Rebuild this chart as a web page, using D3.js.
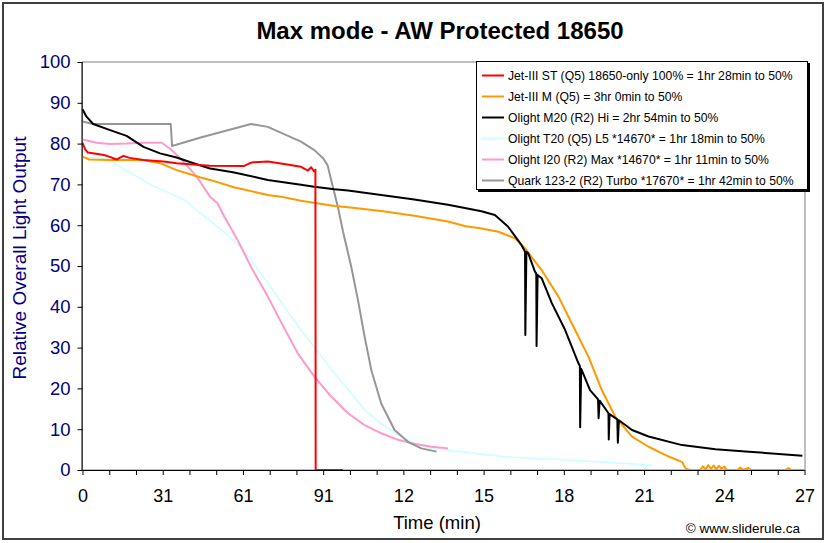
<!DOCTYPE html>
<html><head><meta charset="utf-8">
<script src="https://cdn.jsdelivr.net/npm/d3@7"></script>
<style>
html,body{margin:0;padding:0;background:#fff;}
svg{display:block;font-family:Arial,"Liberation Sans",sans-serif;}
</style></head>
<body>
<svg id="chart" width="829" height="543"></svg>
<script>
// ---------- data (x in axis units, y in % output) ----------
const chartTitle = "Max mode - AW Protected 18650";
const seriesNames = [
  "Jet-III ST (Q5) 18650-only 100% = 1hr 28min to 50%",
  "Jet-III M (Q5) = 3hr 0min to 50%",
  "Olight M20 (R2) Hi = 2hr 54min to 50%",
  "Olight T20 (Q5) L5 *14670* = 1hr 18min to 50%",
  "Olight I20 (R2) Max *14670* = 1hr 11min to 50%",
  "Quark 123-2 (R2) Turbo *17670* = 1hr 42min to 50%"
];
const seriesColors = ["#ff0000", "#ff9900", "#000000", "#ccffff", "#ff99cc", "#969696"];
const xTickValues = [0,3,6,9,12,15,18,21,24,27];
const xTickLabels = ["0","31","61","91","12","15","18","21","24","27"];
const yTickValues = [0,10,20,30,40,50,60,70,80,90,100];

const jetST = [[0,80.2],[0.1,78.6],[0.2,77.8],[0.5,77.5],[0.8,77.2],[1.0,76.8],[1.27,76.1],[1.53,77],[1.76,76.5],
  [2.28,76],[3.03,75.6],[3.52,75.2],[4.76,74.6],[6.03,74.5],[6.26,75.2],[6.36,75.4],[6.93,75.6],[7.54,75],
  [8.17,74.3],[8.43,73.4],[8.55,74.2],[8.66,73.2],[8.71,73.6],[8.72,0],[9.74,0]];
const jetM = [[0,76.8],[0.25,76.1],[1.0,76],[2.27,76],[2.9,75.2],[3.52,73.5],[4.42,71.7],[4.77,71.1],[5.66,69.3],
  [6.93,67.4],[7.42,67],[8.17,66],[8.66,65.5],[9.42,64.7],[9.93,64.4],[11.17,63.5],[12.41,62.3],[13.67,60.9],
  [14.29,59.8],[14.92,59.2],[15.55,58.4],[16.17,56.8],[16.55,54.3],[17.17,49],[17.8,42.5],[18.42,34.3],
  [18.92,27.8],[19.42,19.6],[19.92,13.1],[20.55,8.2],[21.17,5.7],[21.92,3.3],[22.42,2.0],[22.55,0.4],
  [22.7,0],[23.1,0],[23.2,0.9],[23.3,0.2],[23.4,1.2],[23.5,0.3],[23.6,1.1],[23.7,0.2],[23.8,1.0],[23.9,0.3],
  [24.0,0.8],[24.1,0],[24.5,0],[24.6,0.6],[24.7,0],[24.9,0.5],[25.0,0],[26.3,0],[26.4,0.5],[26.5,0],[27,0]];
const olightM20 = [[0,88.4],[0.15,86.6],[0.4,84.8],[1.03,83.3],[1.65,81.9],[2.28,79.2],[2.9,77.6],[3.52,76.6],
  [4.15,75.2],[4.77,73.9],[5.4,73.2],[5.67,72.9],[6.52,71.7],[6.93,71.1],[8.17,69.9],[8.66,69.4],[9.42,68.8],
  [9.93,68.5],[11.17,67.4],[12.41,66.3],[13.67,65],[14.92,63.4],[15.42,62.5],[15.92,59.6],[16.42,55.1],
  [16.55,53.5],[16.56,33.1],[16.6,53.5],[16.67,53.1],[16.92,48.6],[16.97,48.2],[16.98,30.4],[17.02,47.8],
  [17.17,47],[17.55,40.9],[18.05,34.3],[18.55,26.1],[18.6,25.5],[18.61,10.5],[18.65,24.8],[18.67,24.5],
  [18.98,19.6],[19.28,17.3],[19.3,12.7],[19.34,17.0],[19.67,13.9],[19.68,7.5],[19.71,13.7],[20.0,12.4],
  [20.02,6.7],[20.06,12.2],[20.55,9.8],[21.17,8.2],[22.42,6.1],[23.67,5.1],[24.92,4.5],[26.92,3.5]];
const olightT20 = [[0,76.4],[0.5,76.6],[1.0,76],[1.6,73.5],[2.15,71.5],[2.55,69.9],[3.2,68],[3.8,66.2],[4.4,63],
  [5.05,59.6],[5.8,55.5],[6.3,51.5],[6.93,45.8],[7.55,40],[8.17,34.3],[8.8,29],[9.42,23.7],[10.05,18.8],
  [10.55,14.7],[11.17,11.4],[11.8,8.6],[12.42,6.5],[13.05,5.3],[13.67,4.9],[14.92,3.9],[15.92,3.2],
  [18.05,2.5],[21.3,1.2]];
const olightI20 = [[0,81],[0.52,80.2],[1.03,79.9],[1.65,80],[2.28,80.2],[2.96,80.2],[3.27,78.8],[3.77,75.6],
  [4.27,71.9],[4.77,67],[5.05,65.4],[5.27,62.5],[5.8,56.4],[6.3,49.8],[6.93,42.5],[7.42,36.3],[8.05,28.6],
  [8.67,22.9],[9.3,18],[9.93,13.9],[10.55,11],[11.17,9],[11.8,7.4],[12.42,6.4],[13.05,5.7],[13.67,5.3]];
const quark = [[0,85.4],[0.4,84.8],[3.3,84.8],[3.35,79.4],[4.42,81.5],[6.3,84.8],[6.93,84.1],[8.17,80.5],
  [8.67,78.4],[9.0,76.4],[9.17,74.6],[9.3,71.0],[9.55,64.5],[9.74,58.5],[10.05,49.8],[10.3,41.7],[10.55,32.7],
  [10.8,24.5],[11.17,16.3],[11.67,9.8],[12.17,6.9],[12.67,5.3],[13.24,4.5]];

const seriesData = [jetST, jetM, olightM20, olightT20, olightI20, quark];
const drawOrder = [3, 4, 5, 1, 2, 0];

// ---------- layout ----------
const svg = d3.select("#chart");
const L = 82.5, R = 804.5, T = 62, B = 470;
const x = d3.scaleLinear().domain([0, 27]).range([L, R]);
const y = d3.scaleLinear().domain([0, 100]).range([B, T]);

// outer frame
svg.append("rect").attr("x", 3).attr("y", 3).attr("width", 820).attr("height", 536)
  .attr("fill", "#fff").attr("stroke", "#404040").attr("stroke-width", 2);

// title
svg.append("text").attr("x", 440).attr("y", 39).attr("text-anchor", "middle")
  .attr("font-size", 24).attr("font-weight", "bold").attr("fill", "#000").text(chartTitle);

// plot border
svg.append("rect").attr("x", L).attr("y", T).attr("width", 805 - L).attr("height", B - T)
  .attr("fill", "none").attr("stroke", "#808080").attr("stroke-width", 1);

// lines
const line = d3.line().x(d => x(d[0])).y(d => y(d[1]));
const g = svg.append("g");
drawOrder.forEach(i => {
  g.append("path").datum(seriesData[i]).attr("d", line).attr("fill", "none")
    .attr("stroke", seriesColors[i]).attr("stroke-width", i === 3 ? 1.6 : 2)
    .attr("stroke-linejoin", "round");
});

// axes
const xAxis = d3.axisBottom(x).tickValues(d3.range(0, 28)).tickSize(5)
  .tickFormat(v => { const k = xTickValues.indexOf(v); return k >= 0 ? xTickLabels[k] : ""; });
const gx = svg.append("g").attr("transform", `translate(0,${B})`).call(xAxis);
gx.select(".domain").attr("stroke", "#000").attr("d", `M${L},0.5H${R}`);
gx.selectAll(".tick line").attr("stroke", "#000");
gx.selectAll(".tick text").attr("font-size", 18).attr("fill", "#000").attr("dy", 0).attr("y", 32)
  .attr("font-family", "Arial, 'Liberation Sans', sans-serif");

const yAxis = d3.axisLeft(y).tickValues(yTickValues).tickSize(5).tickFormat(d3.format("d"));
const gy = svg.append("g").attr("transform", `translate(${L},0)`).call(yAxis);
gy.select(".domain").attr("stroke", "#000").attr("d", `M-0.5,${T}V${B}`);
gy.selectAll(".tick line").attr("stroke", "#000");
gy.selectAll(".tick text").attr("font-size", 18.5).attr("fill", "#000080").attr("x", -12)
  .attr("font-family", "Arial, 'Liberation Sans', sans-serif");

// axis titles
svg.append("text").attr("x", 437).attr("y", 529).attr("text-anchor", "middle")
  .attr("font-size", 18.5).attr("fill", "#000").text("Time (min)");
svg.append("text").attr("transform", "translate(26,258) rotate(-90)").attr("text-anchor", "middle")
  .attr("font-size", 19).attr("fill", "#000080").text("Relative Overall Light Output");

// copyright
svg.append("text").attr("x", 800).attr("y", 533).attr("text-anchor", "end")
  .attr("font-size", 13.5).attr("fill", "#000").text("\u00a9 www.sliderule.ca");

// legend
const lg = svg.append("g");
lg.append("rect").attr("x", 478).attr("y", 63).attr("width", 332).attr("height", 129).attr("fill", "#000");
lg.append("rect").attr("x", 476.5).attr("y", 61.5).attr("width", 331).attr("height", 128)
  .attr("fill", "#fff").attr("stroke", "#000").attr("stroke-width", 1);
seriesNames.forEach((name, i) => {
  const yy = 75.5 + i * 21;
  lg.append("line").attr("x1", 482).attr("x2", 504).attr("y1", yy).attr("y2", yy)
    .attr("stroke", seriesColors[i]).attr("stroke-width", 2);
  lg.append("text").attr("x", 508).attr("y", yy + 4.5).attr("font-size", 12.2).attr("fill", "#000").text(name);
});
</script>
</body></html>
